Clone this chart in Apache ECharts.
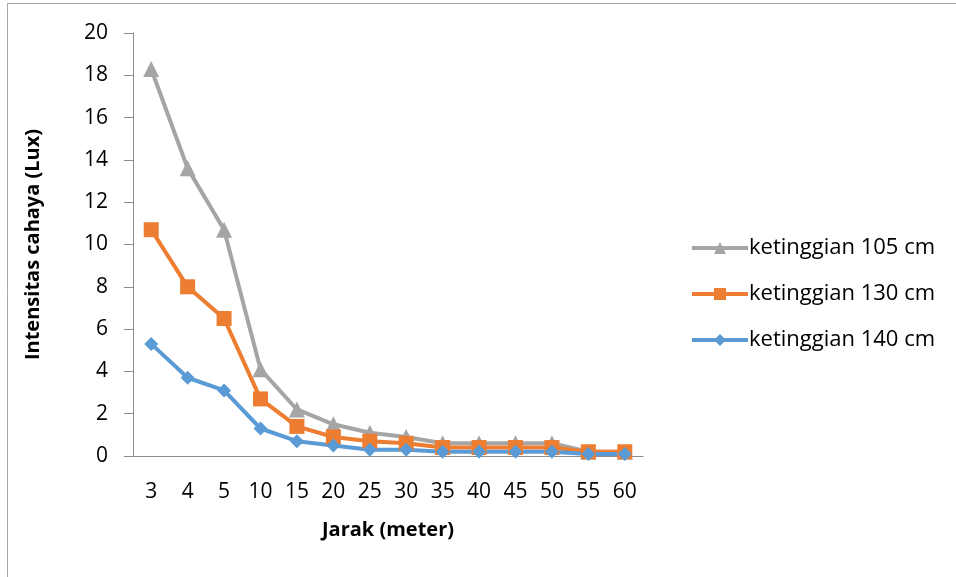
<!DOCTYPE html>
<html>
<head>
<meta charset="utf-8">
<script src="https://cdn.jsdelivr.net/npm/echarts@6/dist/echarts.min.js"></script>
<style>html,body{margin:0;padding:0;background:#fff;}#c{width:956px;height:577px;}</style>
</head>
<body>
<div id="c"></div>
<script>
const categories = ['3','4','5','10','15','20','25','30','35','40','45','50','55','60'];
const seriesNames = ['ketinggian 105 cm','ketinggian 130 cm','ketinggian 140 cm'];
const h105 = [18.3,13.6,10.7,4.1,2.2,1.5,1.1,0.9,0.6,0.6,0.6,0.6,0.2,0.2];
const h130 = [10.7,8.0,6.5,2.7,1.4,0.9,0.7,0.6,0.4,0.4,0.4,0.4,0.2,0.2];
const h140 = [5.3,3.7,3.1,1.3,0.7,0.5,0.3,0.3,0.2,0.2,0.2,0.2,0.1,0.1];

const font = "'Open Sans', 'Liberation Sans', sans-serif";
const chart = echarts.init(document.getElementById('c'), null, {renderer:'canvas'});
const diamond = 'path://M0,-1L1,0L0,1L-1,0Z';
function mk(name, data, color, symbol, size){
  return {name, type:'line', data, symbol, symbolSize:size, showSymbol:true,
    lineStyle:{color, width:4}, itemStyle:{color}, emphasis:{disabled:true}, animation:false, z: 2};
}
chart.setOption({
  animation:false,
  graphic:[{type:'rect', shape:{x:7.5,y:3.5,width:1000,height:1000}, style:{fill:'none', stroke:'#a6a6a6', lineWidth:1}}],
  grid:{left:133, top:33, right:313, bottom:121, containLabel:false},
  legend:{
    orient:'vertical', left:685, top:232, itemGap:24, itemWidth:56, itemHeight:15,
    lineStyle:{width:4},
    textStyle:{fontFamily:font, fontSize:22, color:'#000', padding:[0,0,0,-4]},
    data:seriesNames
  },
  xAxis:{type:'category', data:categories, boundaryGap:true,
    name:'Jarak (meter)', nameLocation:'middle', nameGap:64,
    nameTextStyle:{fontFamily:font, fontSize:20, fontWeight:'bold', color:'#000'},
    axisLine:{lineStyle:{color:'#8c8c8c', width:1}}, axisTick:{show:false},
    axisLabel:{fontFamily:font, fontSize:21, color:'#000', margin:26}},
  yAxis:{type:'value', min:0, max:20, interval:2,
    name:'Intensitas cahaya (Lux)', nameLocation:'middle', nameGap:90, nameRotate:90,
    nameTextStyle:{fontFamily:font, fontSize:20, fontWeight:'bold', color:'#000'},
    axisLine:{show:true, lineStyle:{color:'#8c8c8c', width:1}},
    axisTick:{show:true, inside:false, length:9, lineStyle:{color:'#8c8c8c'}},
    splitLine:{show:false},
    axisLabel:{fontFamily:font, fontSize:21, color:'#000', margin:25}},
  series:[
    mk(seriesNames[0], h105, '#a5a5a5', 'triangle', 16),
    mk(seriesNames[1], h130, '#ed7d31', 'rect', 15),
    mk(seriesNames[2], h140, '#5b9bd5', diamond, 14)
  ]
});
</script>
</body>
</html>
